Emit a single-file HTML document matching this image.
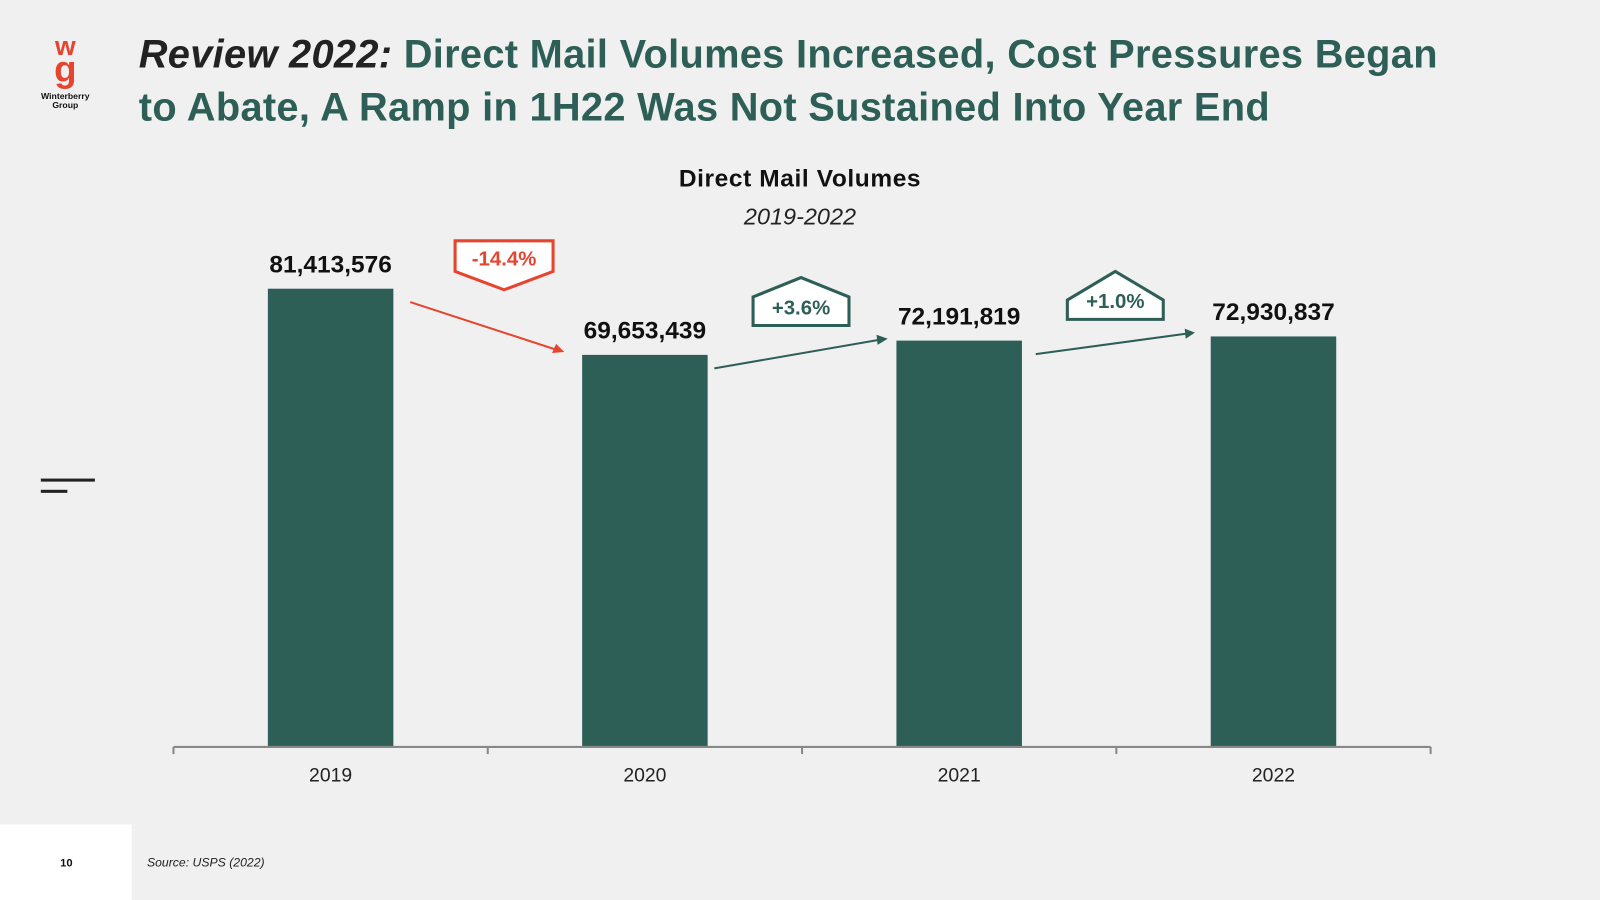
<!DOCTYPE html>
<html><head><meta charset="utf-8"><style>
html,body{margin:0;padding:0;background:#f0f0f0;overflow:hidden}
#wrap{width:1568px;height:882px;transform:scale(1.020408);transform-origin:0 0;position:relative;background:#f0f0f0;font-family:"Liberation Sans",sans-serif}
</style></head><body>
<div id="wrap">
<svg width="1568" height="882" viewBox="0 0 1568 882" xmlns="http://www.w3.org/2000/svg" font-family="Liberation Sans, sans-serif">
  <g>
    <text x="64" y="54" text-anchor="middle" font-size="26" font-weight="bold" fill="#e5452f">w</text>
    <text x="64" y="80" text-anchor="middle" font-size="36" font-weight="bold" fill="#e5452f">g</text>
    <text x="64" y="97" text-anchor="middle" font-size="8.5" font-weight="bold" fill="#111">Winterberry</text>
    <text x="64" y="106" text-anchor="middle" font-size="8.5" font-weight="bold" fill="#111">Group</text>
  </g>
  <text x="136" y="66" font-size="39" font-weight="bold" letter-spacing="0.3" fill="#2d5f57"><tspan font-style="italic" fill="#222">Review 2022:</tspan> Direct Mail Volumes Increased, Cost Pressures Began</text>
  <text x="136" y="118" font-size="39" font-weight="bold" letter-spacing="0.3" fill="#2d5f57">to Abate, A Ramp in 1H22 Was Not Sustained Into Year End</text>
  <text x="784" y="183" text-anchor="middle" font-size="24" font-weight="bold" letter-spacing="0.6" fill="#111">Direct Mail Volumes</text>
  <text x="784" y="220" text-anchor="middle" font-size="23" font-style="italic" fill="#222">2019-2022</text>
  <rect x="40" y="469" width="53" height="3" fill="#222"/>
  <rect x="40" y="480" width="26" height="3" fill="#222"/>
  <g id="chart"></g>
  <g>
    <line x1="402" y1="296" x2="546" y2="343" stroke="#e5452f" stroke-width="2"/>
    <polygon points="553,345 541,346 545,337" fill="#e5452f"/>
    <polygon points="446,236 542,236 542,266 494,284 446,266" fill="#fff" stroke="#e5452f" stroke-width="3"/>
    <text x="494" y="260" text-anchor="middle" font-size="20" font-weight="bold" fill="#e5452f">-14.4%</text>
    <line x1="700" y1="361" x2="862" y2="333" stroke="#2d5f57" stroke-width="2"/>
    <polygon points="870,332 860,338 859,328" fill="#2d5f57"/>
    <polygon points="738,319 832,319 832,291 785,272 738,291" fill="#fff" stroke="#2d5f57" stroke-width="3"/>
    <text x="785" y="308" text-anchor="middle" font-size="20" font-weight="bold" fill="#2d5f57">+3.6%</text>
    <line x1="1015" y1="347" x2="1163" y2="327" stroke="#2d5f57" stroke-width="2"/>
    <polygon points="1171,326 1162,332 1161,322" fill="#2d5f57"/>
    <polygon points="1046,313 1140,313 1140,294 1093,266 1046,294" fill="#fff" stroke="#2d5f57" stroke-width="3"/>
    <text x="1093" y="302" text-anchor="middle" font-size="20" font-weight="bold" fill="#2d5f57">+1.0%</text>
  </g>
  <rect x="0" y="808" width="129" height="74" fill="#fff"/>
  <text x="65" y="849" text-anchor="middle" font-size="11" font-weight="bold" fill="#111">10</text>
  <text x="144" y="849" font-size="12" font-style="italic" fill="#222">Source: USPS (2022)</text>
</svg>
</div>
<script>
const categories = ["2019","2020","2021","2022"];
const volumes = [81413576, 69653439, 72191819, 72930837];
const labels = ["81,413,576","69,653,439","72,191,819","72,930,837"];
const NS = "http://www.w3.org/2000/svg";
const g = document.getElementById("chart");
const x0 = 170, x1 = 1402, baseY = 732, pxPerUnit = 5.516e-6;
const band = (x1 - x0) / categories.length;
function xCenter(i){ return x0 + band * (i + 0.5); }
function yVal(v){ return baseY - v * pxPerUnit; }
function mk(tag, attrs){ const e = document.createElementNS(NS, tag); for (const k in attrs) e.setAttribute(k, attrs[k]); g.appendChild(e); return e; }
categories.forEach((c, i) => {
  const cx = xCenter(i), top = yVal(volumes[i]);
  const r = mk("rect", {x: cx - 61.5, y: top, width: 123, height: baseY - top, fill: "#2d5f57"});
  
  
  const t = mk("text", {x: cx, y: top - 16, "text-anchor": "middle", "font-size": 24, "font-weight": "bold", fill: "#111"});
  t.textContent = labels[i];
  
  
  const xl = mk("text", {x: cx, y: 766, "text-anchor": "middle", "font-size": 19, fill: "#222"});
  xl.textContent = c;
  
  
});
const axis = mk("line", {x1: x0, y1: baseY, x2: x1, y2: baseY, stroke: "#888", "stroke-width": 2});


for (let i = 0; i <= categories.length; i++) {
  const tk = mk("line", {x1: x0 + band * i, y1: baseY, x2: x0 + band * i, y2: baseY + 7, stroke: "#888", "stroke-width": 2});
  
  
}
</script>
</body></html>
